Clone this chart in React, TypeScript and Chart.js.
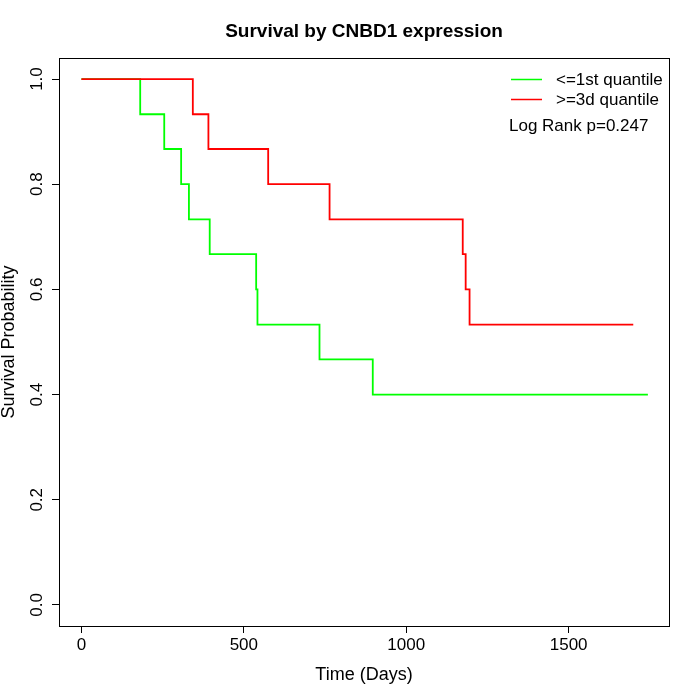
import React, { useEffect, useRef } from 'react';
import { Chart, registerables } from 'chart.js';

Chart.register(...registerables);

// Kaplan-Meier steps (days, survival probability)
const lowTimes = [0, 181, 255, 307, 331, 395, 538, 542, 733, 897, 1744];
const lowSurv = [1, 0.933, 0.867, 0.8, 0.733, 0.667, 0.6, 0.533, 0.467, 0.4, 0.4];
const highTimes = [0, 343, 391, 575, 764, 1174, 1183, 1195, 1699];
const highSurv = [1, 0.933, 0.867, 0.8, 0.733, 0.667, 0.6, 0.533, 0.533];

const groupLabels = ['<=1st quantile', '>=3d quantile'];
const groupColors = ['#00ff00', '#ff0000'];
const xTicks = [0, 500, 1000, 1500];
const yTicks = [0, 0.2, 0.4, 0.6, 0.8, 1.0];
const pValueText = 'Log Rank p=0.247';

const FONT = '"Liberation Sans", Arial, Helvetica, sans-serif';

const decorations = {
  id: 'rDecorations',
  afterDraw(chart: Chart) {
    const { ctx, chartArea: a } = chart;
    const yScale = chart.scales.y;
    ctx.save();
    // box round the plot
    ctx.strokeStyle = '#000';
    ctx.lineWidth = 1;
    ctx.strokeRect(Math.round(a.left) + 0.5, Math.round(a.top) + 0.5, Math.round(a.right - a.left), Math.round(a.bottom - a.top));

    ctx.fillStyle = '#000';
    ctx.textAlign = 'center';
    ctx.textBaseline = 'middle';
    ctx.font = `17px ${FONT}`;
    // y tick labels, turned like R does
    yTicks.forEach((v) => {
      const py = yScale.getPixelForValue(v);
      ctx.save();
      ctx.translate(37, py);
      ctx.rotate(-Math.PI / 2);
      ctx.fillText(v.toFixed(1), 0, 0);
      ctx.restore();
    });
    // axis titles
    const cx = (a.left + a.right) / 2;
    const cy = (a.top + a.bottom) / 2;
    ctx.font = `18px ${FONT}`;
    ctx.fillText('Time (Days)', cx, 675);
    ctx.save();
    ctx.translate(9, cy);
    ctx.rotate(-Math.PI / 2);
    ctx.fillText('Survival Probability', 0, 0);
    ctx.restore();

    // main title
    ctx.font = `bold 19px ${FONT}`;
    ctx.textBaseline = 'alphabetic';
    ctx.fillText('Survival by CNBD1 expression', cx, 37);

    // legend
    ctx.font = `17px ${FONT}`;
    ctx.textAlign = 'left';
    ctx.textBaseline = 'middle';
    groupLabels.forEach((lab, i) => {
      const ly = 79 + i * 20;
      ctx.strokeStyle = groupColors[i];
      ctx.lineWidth = 1.5;
      ctx.beginPath();
      ctx.moveTo(511, ly + 0.5);
      ctx.lineTo(542, ly + 0.5);
      ctx.stroke();
      ctx.fillText(lab, 556, ly + 1);
    });
    ctx.fillText(pValueText, 509, 126);
    ctx.restore();
  },
};

const App: React.FC = () => {
  const canvasRef = useRef<HTMLCanvasElement>(null);

  useEffect(() => {
    if (!canvasRef.current) return;
    const toPoints = (t: number[], s: number[]) => t.map((x, i) => ({ x, y: s[i] }));
    const chart = new Chart(canvasRef.current, {
      type: 'line',
      data: {
        datasets: [
          {
            label: groupLabels[0],
            data: toPoints(lowTimes, lowSurv),
            borderColor: groupColors[0],
            borderWidth: 1.8,
            stepped: 'before',
            pointRadius: 0,
            fill: false,
            order: 1,
          },
          {
            label: groupLabels[1],
            data: toPoints(highTimes, highSurv),
            borderColor: groupColors[1],
            borderWidth: 1.8,
            stepped: 'before',
            pointRadius: 0,
            fill: false,
            order: 0,
          },
        ],
      },
      options: {
        animation: false,
        responsive: false,
        maintainAspectRatio: false,
        layout: { padding: { top: 58, right: 31, left: 0, bottom: 0 } },
        plugins: { legend: { display: false }, tooltip: { enabled: false }, title: { display: false } },
        scales: {
          x: {
            type: 'linear',
            min: -69,
            max: 1809,
            afterBuildTicks: (s: any) => {
              s.ticks = xTicks.map((value) => ({ value }));
            },
            afterFit: (s: any) => {
              s.height = 74;
            },
            grid: { drawOnChartArea: false, tickLength: 7, color: '#000', tickColor: '#000' },
            border: { display: false },
            ticks: {
              color: '#000',
              font: { family: FONT, size: 17 },
              padding: 2,
              maxRotation: 0,
              autoSkip: false,
              callback: (v: any) => String(v),
            },
          },
          y: {
            type: 'linear',
            min: -0.04,
            max: 1.04,
            afterBuildTicks: (s: any) => {
              s.ticks = yTicks.map((value) => ({ value }));
            },
            afterFit: (s: any) => {
              s.width = 59;
            },
            grid: { drawOnChartArea: false, tickLength: 7, color: '#000', tickColor: '#000' },
            border: { display: false },
            ticks: { display: false },
          },
        },
      },
      plugins: [decorations],
    });
    return () => chart.destroy();
  }, []);

  return (
    <div style={{ position: 'absolute', left: 0, top: 0, width: 700, height: 700, background: '#fff' }}>
      <canvas ref={canvasRef} width={700} height={700} />
    </div>
  );
};

export default App;
